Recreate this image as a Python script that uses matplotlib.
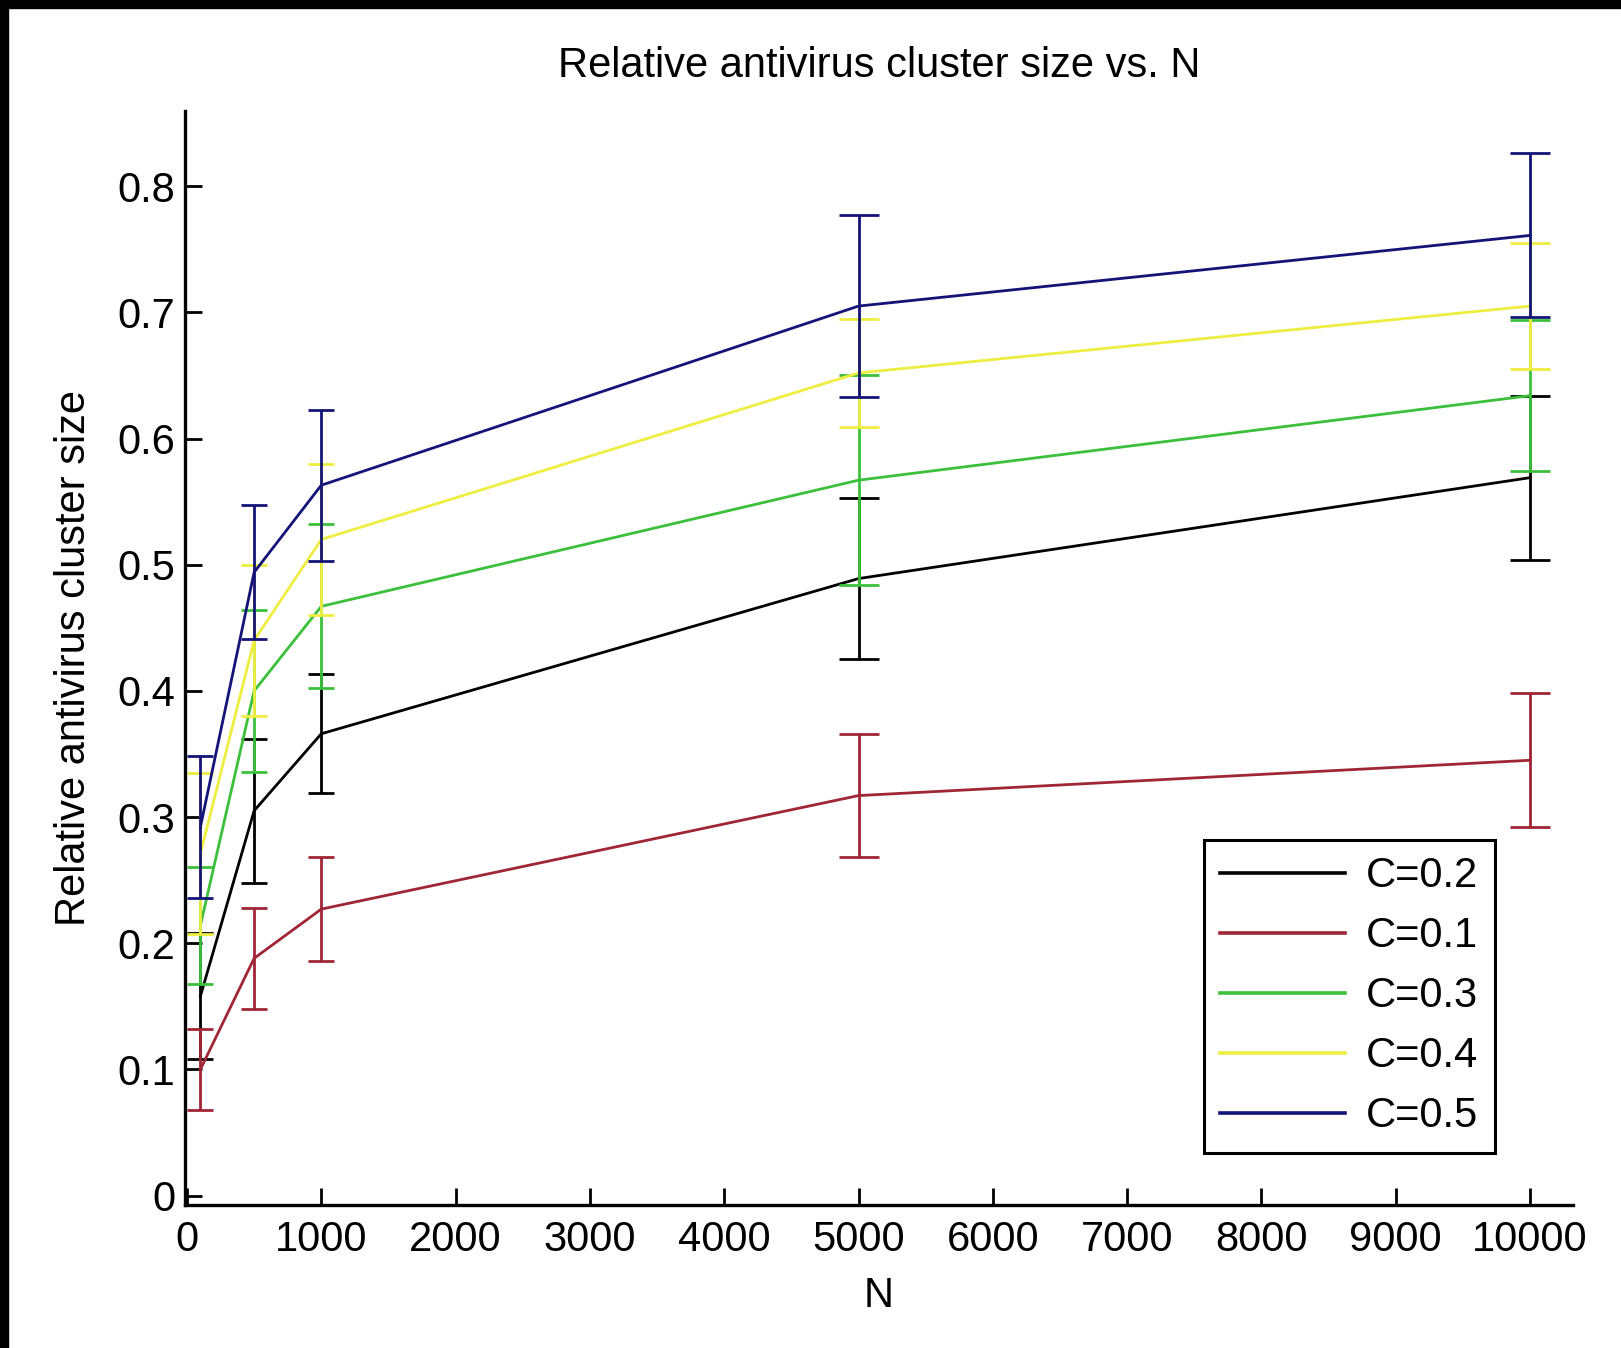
import numpy as np
import matplotlib.pyplot as plt
from matplotlib.patches import Rectangle

plt.rcParams['font.family'] = ['Liberation Sans Narrow', 'Liberation Sans', 'DejaVu Sans']

# data
n_values = [100, 500, 1000, 5000, 10000]
labels = ["C=0.2", "C=0.1", "C=0.3", "C=0.4", "C=0.5"]

c02_mean = [0.158, 0.305, 0.366, 0.489, 0.569]
c02_err = [0.050, 0.057, 0.047, 0.064, 0.065]
c01_mean = [0.100, 0.188, 0.227, 0.317, 0.345]
c01_err = [0.032, 0.040, 0.041, 0.049, 0.053]
c03_mean = [0.214, 0.400, 0.467, 0.567, 0.634]
c03_err = [0.046, 0.064, 0.065, 0.083, 0.060]
c04_mean = [0.271, 0.440, 0.520, 0.652, 0.705]
c04_err = [0.064, 0.060, 0.060, 0.043, 0.050]
c05_mean = [0.292, 0.494, 0.563, 0.705, 0.761]
c05_err = [0.056, 0.053, 0.060, 0.072, 0.065]

means = [c02_mean, c01_mean, c03_mean, c04_mean, c05_mean]
errs = [c02_err, c01_err, c03_err, c04_err, c05_err]
colors = ["black", "#a02535", "#3cc03c", "#eeee40", "#141478"]
caps = [9.7, 9.7, 9.7, 14.4, 14.4]   # cap half-width per point, pt

fig = plt.figure(figsize=(16.21, 13.48), dpi=100)
ax = fig.add_axes([0.1141, 0.1061, 0.8563, 0.8119])

lines = []
for m, e, c, lab in zip(means, errs, colors, labels):
    ln, = ax.plot(n_values, m, color=c, linewidth=2.0, label=lab)
    lines.append(ln)
    for i in range(len(n_values)):
        ax.errorbar(n_values[i], m[i], yerr=e[i], fmt='none', ecolor=c,
                    elinewidth=2.0, capsize=caps[i], capthick=2.0)

ax.set_xlim(-15, 10320)
ax.set_ylim(-0.0075, 0.86)
ax.set_xticks(np.arange(0, 10001, 1000))
ax.set_yticks(np.arange(0, 0.81, 0.1))
ax.set_yticklabels(["0", "0.1", "0.2", "0.3", "0.4", "0.5", "0.6", "0.7", "0.8"])

for s in ["top", "right"]:
    ax.spines[s].set_visible(False)
for s in ["left", "bottom"]:
    ax.spines[s].set_linewidth(2.4)
ax.tick_params(direction='in', length=12, width=2.0, labelsize=30)
ax.tick_params(axis='y', pad=7)
ax.tick_params(axis='x', pad=11)

ax.set_title("Relative antivirus cluster size vs. N", fontsize=30, pad=24)
ax.set_xlabel("N", fontsize=30, labelpad=11)
ax.set_ylabel("Relative antivirus cluster size", fontsize=30, labelpad=17)

leg = ax.legend(handles=lines, loc='lower right',
                bbox_to_anchor=(0.9223, 0.1447), bbox_transform=fig.transFigure,
                borderaxespad=0, fontsize=30, fancybox=False, framealpha=1,
                edgecolor='black', handlelength=3.0, handletextpad=0.5,
                labelspacing=0.48, borderpad=0.4)
leg.get_frame().set_linewidth(2.2)
for h in leg.get_lines():
    h.set_linewidth(2.6)

# black screen-capture edge on top and left
fig.patches.append(Rectangle((0, 1 - 7.5 / 1348), 1, 7.5 / 1348,
                             transform=fig.transFigure, color='black', zorder=10))
fig.patches.append(Rectangle((0, 0), 7.5 / 1621, 1,
                             transform=fig.transFigure, color='black', zorder=10))

plt.savefig("out.png", dpi=100)
